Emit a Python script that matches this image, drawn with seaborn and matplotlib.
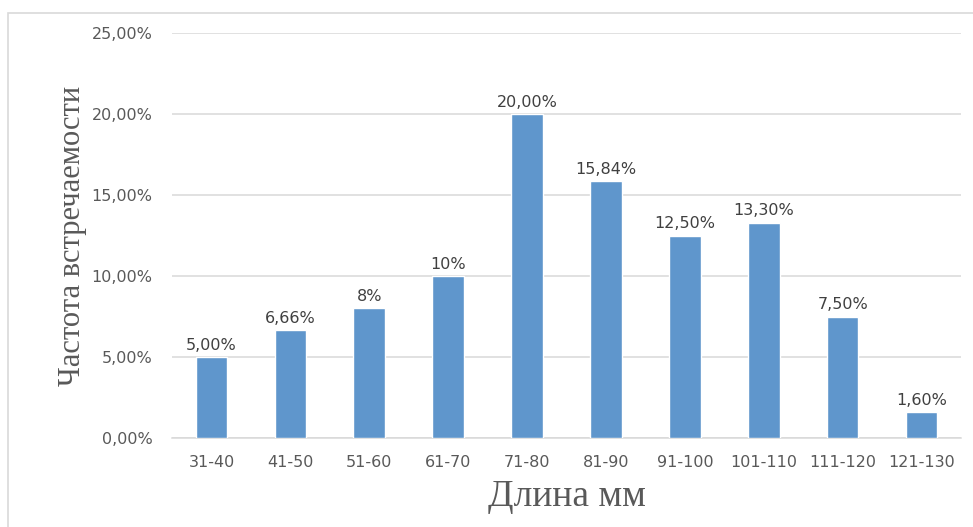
import matplotlib
matplotlib.use("Agg")
import matplotlib.pyplot as plt
import seaborn as sns
import pandas as pd

# Length classes and their occurrence frequency (%)
length_classes = ["31-40", "41-50", "51-60", "61-70", "71-80",
                  "81-90", "91-100", "101-110", "111-120", "121-130"]
frequency = [5.00, 6.66, 8.0, 10.0, 20.00, 15.84, 12.50, 13.30, 7.50, 1.60]
value_labels = ["5,00%", "6,66%", "8%", "10%", "20,00%",
                "15,84%", "12,50%", "13,30%", "7,50%", "1,60%"]
y_ticks = [0, 5, 10, 15, 20, 25]
y_tick_labels = ["0,00%", "5,00%", "10,00%", "15,00%", "20,00%", "25,00%"]

df = pd.DataFrame({"class": length_classes, "freq": frequency})

sns.set_theme(style="white")
plt.rcParams["font.family"] = ["DejaVu Sans"]

fig = plt.figure(figsize=(9.73, 5.27), dpi=100)
ax = fig.add_axes([172 / 973, 1 - 438 / 527, (961 - 172) / 973, (438 - 33) / 527])

bar_color = "#5F96CC"
sns.barplot(data=df, x="class", y="freq", color=bar_color, width=0.4,
            saturation=1, ax=ax, zorder=3)

ax.set_ylim(0, 25)
ax.set_xlim(-0.5, len(length_classes) - 0.5)
ax.set_yticks(y_ticks)
ax.set_yticklabels(y_tick_labels)
ax.grid(axis="y", color="#D9D9D9", linewidth=1.1, zorder=0)
ax.set_axisbelow(True)
for side in ["top", "right", "left"]:
    ax.spines[side].set_visible(False)
ax.spines["bottom"].set_color("#D9D9D9")
ax.spines["bottom"].set_linewidth(1.1)

ax.tick_params(axis="both", length=0, labelsize=11.5, labelcolor="#595959")
ax.tick_params(axis="y", pad=14)
ax.tick_params(axis="x", pad=12)

# Value labels above each bar
for i, (v, lab) in enumerate(zip(frequency, value_labels)):
    ax.annotate(lab, (i, v), xytext=(0, 3), textcoords="offset points",
                ha="center", va="bottom", fontsize=11.5, color="#404040")

ax.set_xlabel("Длина мм", family=["Liberation Serif", "DejaVu Serif"],
              fontsize=27, color="#595959", labelpad=7)
ax.set_ylabel("Частота встречаемости", family=["Liberation Serif", "DejaVu Serif"],
              fontsize=22, color="#595959", labelpad=3)

# Light chart-area frame
frame = plt.Rectangle((8 / 973, -0.05), 1.2, 1 - 13 / 527 + 0.05,
                      transform=fig.transFigure, fill=False,
                      edgecolor="#D9D9D9", linewidth=1.2)
fig.patches.append(frame)

fig.savefig("out.png", dpi=100, facecolor="white")
